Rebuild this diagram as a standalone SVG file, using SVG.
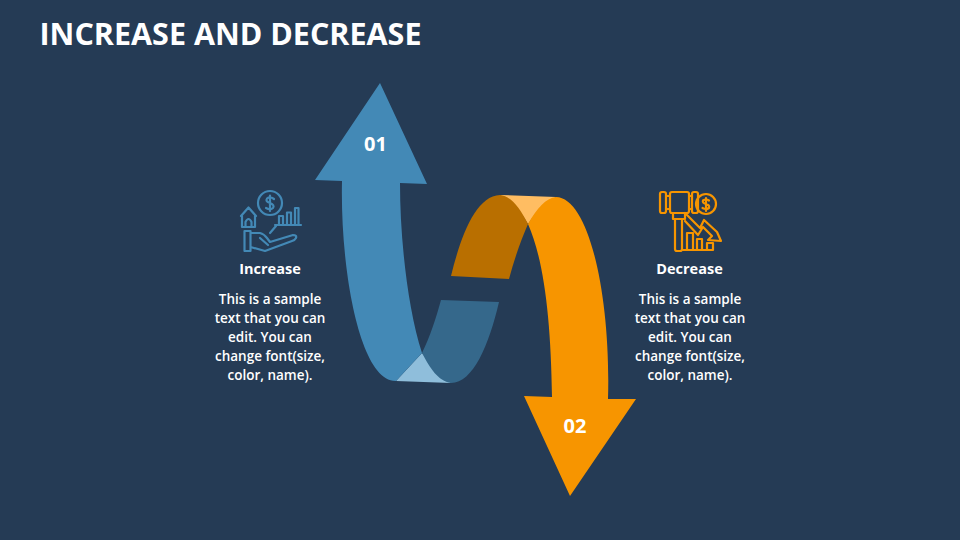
<svg xmlns="http://www.w3.org/2000/svg" width="960" height="540" viewBox="0 0 960 540">
<style>
text{font-family:"Open Sans","Liberation Sans",sans-serif;fill:#fff;text-anchor:middle}
.t{font-size:13.500px;font-weight:600}
.h{font-size:14.500px;font-weight:700}
.n{font-size:20px;font-weight:700}
.ib{fill:none;stroke:#4389B6;stroke-width:2.200;stroke-linejoin:round;stroke-linecap:round}
.io{fill:none;stroke:#F79500;stroke-width:2.200;stroke-linejoin:round;stroke-linecap:round}
</style>
<rect width="960" height="540" fill="#253B55"/>
<text x="39.500" y="45" style="text-anchor:start;font-size:30.500px;font-weight:700">INCREASE AND DECREASE</text>
<g id="connectors">
<g id="arrow-up">
<path d="M396 381L422 353Q437 372 451 383Z" fill="#8FBEDB"/>
<path d="M441 300L499 302C489 345 473 383 451 383C438 381 430 368 422 353C430 337 436 318 441 300Z" fill="#35688B"/>
<path d="M380 83L427 184L400 183C400 240 408 310 422 353L396 381C360 382 340 270 342 181L315 180Z" fill="#4389B6"/>
</g>
<g id="arrow-down">
<path d="M500 195L556 197Q540 205 528 224Q516 203 500 195Z" fill="#FFBD62"/>
<path d="M451 276L509 279C514 260 521 240 528 224C519 206 510 196 500 195C476 196 461 235 451 276Z" fill="#B96F00"/>
<path d="M556 197C590 198 611 300 608 399L636 399L570 496L524 396L552 397C551 320 544 260 528 224C537 208 546 198 556 197Z" fill="#F79500"/>
</g>
</g>
<text class="n" x="375.500" y="151">01</text>
<text class="n" x="575" y="433">02</text>
<g id="increase">
<g class="ib">
<circle cx="270" cy="203" r="12"/>
<path d="M274 199Q270 196 267 198.500Q265 201.500 270 203Q275 205 273 208Q270 210.500 266 208M270 195.500V211"/>
<path d="M241 216L248.500 207.500L256 216M242 215V227H255V215M245.500 227V222Q248.500 216 251.500 222V227"/>
<path d="M275 225H301M279 225V216H283V225M287 225V212.500H291V225M295 225V208H298.500V225M276 226L270 233"/>
<path d="M244.500 231H250.500V251H244.500ZM250.500 233H260Q264 234 267 238L270 242L293 235Q297 235 296 238Q295 240 292 241L265 251L250.500 247M260 238L268 245"/>
</g>
<text class="h" x="270" y="274">Increase</text>
<text class="t"><tspan x="270" y="303.500">This is a sample</tspan><tspan x="270" y="322.500">text that you can</tspan><tspan x="270" y="341.500">edit. You can</tspan><tspan x="270" y="360.500">change font(size,</tspan><tspan x="270" y="379.500">color, name).</tspan></text>
</g>
<g id="decrease">
<g class="io">
<rect x="660" y="192" width="6" height="21" rx="2"/>
<rect x="670" y="192" width="19" height="21" rx="2"/>
<rect x="692" y="192" width="6" height="21" rx="2"/>
<path d="M666 196H670M666 209H670M689 196H692M689 209H692"/>
<circle cx="706" cy="204" r="10"/>
<path d="M709 200.500Q706 198.500 703 200.500Q702 203 706 204Q710 205 709 208Q706 210 702.500 208M706 198V211"/>
<path d="M673 213H685V219H673ZM675 219H682V249Q682 251 680 251H677Q675 251 675 249Z"/>
<path d="M685 213L700 228L704 220L717 232L721 241L708 240L712 236L703 227L698 235L685 221"/>
<path d="M687 250V233H693V250M697 250V239H702V250M707 250V243H713V250ZM682 250H713"/>
</g>
<text class="h" x="689.500" y="274">Decrease</text>
<text class="t"><tspan x="690" y="303.500">This is a sample</tspan><tspan x="690" y="322.500">text that you can</tspan><tspan x="690" y="341.500">edit. You can</tspan><tspan x="690" y="360.500">change font(size,</tspan><tspan x="690" y="379.500">color, name).</tspan></text>
</g>
</svg>
